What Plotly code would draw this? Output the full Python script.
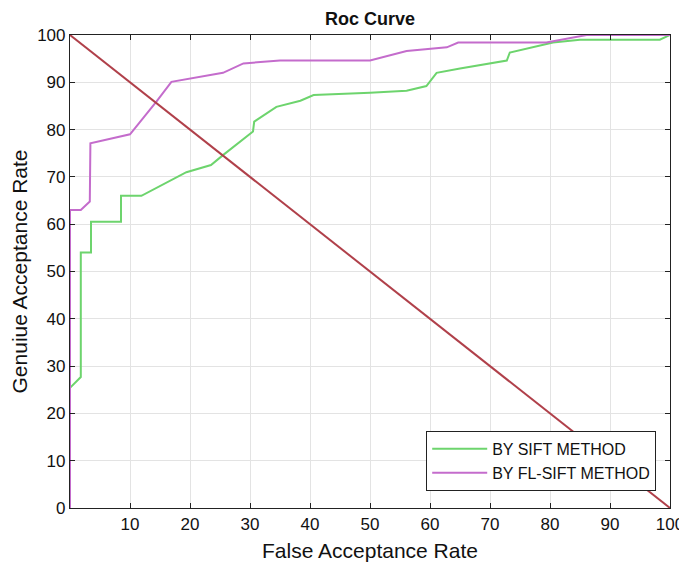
import plotly.graph_objects as go

# SIFT method (green)
sift_far = [0, 1.8, 1.8, 3.5, 3.5, 8.5, 8.5, 11.9, 19.4, 23.5, 25.5, 30.5, 30.7, 34.4, 38.4,
            40.6, 50, 56.1, 59.4, 61.1, 65, 72.8, 73.3, 78.3, 80.5, 85, 98.3, 100]
sift_gar = [25.4, 27.7, 54, 54, 60.5, 60.5, 66, 66, 71, 72.5, 74.6, 79.6, 81.7, 84.8, 86.1,
            87.3, 87.8, 88.2, 89.2, 92, 92.9, 94.6, 96.3, 97.7, 98.4, 99, 99, 100]

# FL-SIFT method (purple)
fl_far = [0, 0, 1.8, 3.3, 3.4, 10, 14.4, 16.9, 25.5, 28.9, 35, 50, 56.1, 62.8, 64.7, 79.4, 86.1, 100]
fl_gar = [0, 63, 63, 64.8, 77.1, 79, 85.9, 90.1, 92, 94, 94.6, 94.6, 96.6, 97.4, 98.4, 98.4, 100, 100]

# Chance diagonal
diag_far = [0, 100]
diag_gar = [100, 0]

x_ticks = [10, 20, 30, 40, 50, 60, 70, 80, 90, 100]
y_ticks = [0, 10, 20, 30, 40, 50, 60, 70, 80, 90, 100]

FONT = "Liberation Sans, Arial"

fig = go.Figure()
fig.add_trace(go.Scatter(x=sift_far, y=sift_gar, mode="lines", name="BY SIFT METHOD",
                         line=dict(color="#6dd46d", width=2)))
fig.add_trace(go.Scatter(x=fl_far, y=fl_gar, mode="lines", name="BY FL-SIFT METHOD",
                         line=dict(color="#c46ccc", width=2)))
fig.add_trace(go.Scatter(x=diag_far, y=diag_gar, mode="lines", showlegend=False,
                         line=dict(color="#b0404a", width=2)))

axis_common = dict(showline=True, linecolor="#222222", linewidth=1.2, mirror="ticks",
                   ticks="inside", ticklen=5, tickcolor="#222222", automargin=False,
                   showgrid=True, gridcolor="#e3e3e3", gridwidth=1, zeroline=False,
                   tickfont=dict(family=FONT, size=17, color="#111111"))

fig.update_layout(
    width=687, height=567,
    margin=dict(l=62, r=25, t=27, b=67),
    paper_bgcolor="white", plot_bgcolor="white",
    title=dict(text="<b>Roc Curve</b>", x=0.527, xanchor="center", y=0.981, yanchor="middle",
               font=dict(family=FONT, size=18, color="#111111")),
    xaxis=dict(range=[0, 100], tickvals=x_ticks,
               title=dict(text="False Acceptance Rate", standoff=10,
                          font=dict(family=FONT, size=21, color="#111111")),
               **axis_common),
    yaxis=dict(range=[0, 100], tickvals=y_ticks,
               title=dict(text="Genuiue Acceptance Rate", standoff=9,
                          font=dict(family=FONT, size=21, color="#111111")),
               **axis_common),
    legend=dict(x=0.977, y=0.036, xanchor="right", yanchor="bottom",
                bgcolor="white", bordercolor="#222222", borderwidth=1,
                itemwidth=55, tracegroupgap=0,
                font=dict(family=FONT, size=16, color="#111111")),
    showlegend=True,
)

fig.write_html("out.html")
